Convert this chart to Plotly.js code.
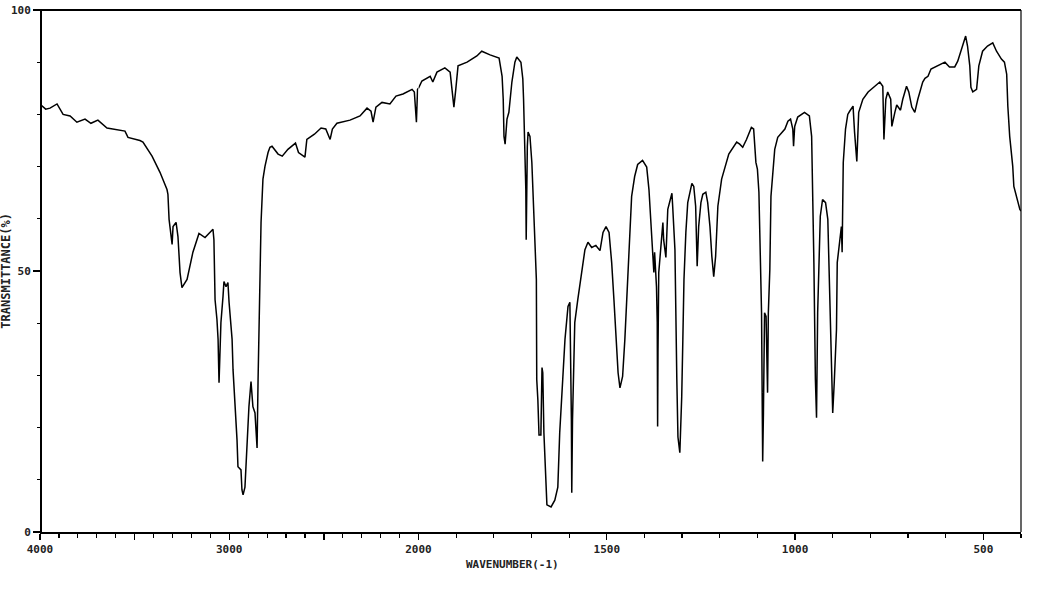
<!DOCTYPE html>
<html>
<head>
<meta charset="utf-8">
<script src="https://cdn.plot.ly/plotly-3.0.1.min.js"></script>
<style>html,body{margin:0;padding:0;background:#fff;}#chart{width:1056px;height:605px;}</style>
</head>
<body>
<div id="chart"></div>
<script>
// Wavenumber (cm-1), descending
var wavenumber = [
4000,3995,3970,3947,3910,3878,3841,3805,3762,3731,3694,3646,3551,3535,3472,3456,3408,3366,3329,
3324,3318,3302,3297,3281,3271,3260,3250,3223,3192,3160,3128,3086,3081,3075,3065,3059,3054,3044,
3033,3028,3017,3007,3001,2985,2980,2970,2959,2954,2938,2933,2927,2917,2906,2896,2885,2875,2864,
2853,2848,2837,2832,2822,2811,2795,2785,2774,2742,2720,2690,2650,2634,2600,2590,2550,2515,2490,
2467,2455,2431,2362,2309,2272,2251,2240,2225,2193,2151,2119,2082,2034,2022,2011,2005,2000,
1991,1969,1962,1951,1930,1916,1911,1906,1901,1895,1871,1845,1832,1810,1786,1778,1775,1773,1770,
1765,1760,1752,1744,1739,1728,1723,1721,1718,1715,1714,1713,1711,1709,1704,1699,1696,1691,1687,
1686,1683,1680,1675,1672,1670,1667,1662,1659,1648,1638,1630,1625,1617,1611,1603,1598,1594,1593,
1591,1585,1577,1566,1558,1550,1540,1529,1518,1510,1502,1494,1487,1481,1476,1470,1465,1458,1452,
1447,1441,1434,1426,1418,1405,1394,1388,1381,1377,1375,1373,1368,1366,1365,1364,1362,1357,1351,
1349,1343,1338,1327,1325,1319,1314,1311,1306,1301,1298,1295,1290,1285,1274,1269,1264,1262,1260,
1256,1250,1245,1237,1232,1226,1221,1216,1211,1205,1195,1187,1176,1155,1147,1139,1129,1116,1110,
1104,1100,1096,1091,1089,1087,1086,1084,1081,1077,1073,1071,1067,1064,1059,1054,1046,1027,1019,
1012,1006,1004,1001,993,975,962,956,953,950,946,943,940,937,933,927,919,913,908,903,900,896,890,
888,882,877,875,872,866,860,855,846,842,836,831,820,806,788,775,767,764,759,754,746,743,735,730,
720,714,704,698,690,682,674,661,655,647,639,623,602,590,576,568,555,547,542,536,533,528,518,512,
502,489,475,465,452,444,438,435,430,422,419,411,403,400
];
// Transmittance (%)
var transmittance = [
81.8,81.8,81.0,81.2,82.0,80.0,79.7,78.5,79.1,78.3,78.9,77.4,76.8,75.6,75.0,74.7,72.0,68.9,65.6,
64.7,59.9,55.1,58.5,59.3,56.6,49.7,46.8,48.4,53.6,57.2,56.4,58.0,56.0,44.5,40.7,36.9,28.6,40.1,
45.1,48.0,47.0,47.8,44.0,36.9,31.1,25.3,17.7,12.5,11.9,8.1,7.1,8.6,17.7,24.0,28.8,24.0,22.8,
16.1,28.6,48.4,59.3,67.6,70.1,72.7,73.7,73.9,72.4,72.0,73.3,74.5,72.7,71.8,75.2,76.2,77.4,77.2,
75.2,77.2,78.3,78.9,79.7,81.2,80.6,78.5,81.4,82.3,82.0,83.5,83.9,84.8,84.3,78.5,84.8,85.0,
86.4,87.3,86.2,88.1,88.9,88.1,84.3,81.4,84.8,89.3,90.0,91.2,92.1,91.4,90.8,87.3,82.9,75.8,74.3,
79.1,80.4,86.2,90.0,91.0,90.0,86.8,82.9,74.7,65.6,56.0,66.2,73.9,76.6,75.8,70.8,65.0,56.0,48.4,
29.2,25.3,18.6,18.6,31.5,30.5,19.0,9.4,5.2,4.8,6.1,8.6,19.0,29.2,36.9,43.2,44.0,21.5,7.5,
21.5,40.1,44.5,49.7,54.1,55.5,54.5,54.9,53.9,57.4,58.5,57.4,51.6,44.5,36.9,30.5,27.6,29.8,36.9,
45.1,54.7,64.3,68.1,70.4,71.2,69.9,65.6,56.6,52.8,49.7,53.6,47.0,40.1,20.2,34.4,49.7,54.7,59.3,
56.0,52.6,61.8,64.9,62.4,54.1,29.2,18.2,15.2,25.9,36.9,48.4,57.4,63.1,66.8,66.2,62.4,54.7,50.9,
58.5,63.1,64.7,65.1,63.1,58.5,52.8,48.9,52.8,62.4,67.6,69.5,72.4,74.7,74.3,73.7,75.2,77.5,77.2,
70.8,69.5,65.1,47.0,42.0,22.8,13.5,22.8,42.0,41.3,26.7,42.0,50.3,64.3,69.5,73.3,75.6,77.2,78.7,
79.1,77.2,73.9,77.7,79.5,80.4,79.7,75.8,64.3,51.6,29.2,21.9,42.0,51.6,60.5,63.7,63.1,59.9,45.1,32.4,22.8,28.6,38.8,
51.6,55.5,58.5,53.6,70.8,77.2,80.0,80.6,81.6,76.6,71.0,80.4,82.9,84.3,85.4,86.2,85.4,75.2,82.9,84.3,82.9,77.7,80.4,81.8,
80.8,82.9,85.4,84.3,81.4,80.4,82.9,86.2,86.9,87.3,88.7,89.3,90.0,89.1,89.1,90.2,93.1,95.0,93.1,89.3,85.2,84.3,84.8,89.3,
92.1,93.1,93.7,92.1,90.6,90.0,87.7,81.6,75.8,70.1,66.2,63.7,61.8,61.5
];
var leftTickVals = [4000,3500,3000,2500];
var leftTickText = ["4000","","3000",""];
var rightTickVals = [2000,1500,1000,500];
var rightTickText = ["2000","1500","1000","500"];
var yTickVals = [0,50,100];
var yTickText = ["0","50","100"];
var xTitle = "WAVENUMBER(-1)";
var yTitle = "TRANSMITTANCE(%)";

var SPLIT = 2000;
var lx=[],ly=[],rx=[],ry=[];
for (var i=0;i<wavenumber.length;i++){
  if (wavenumber[i] >= SPLIT){ lx.push(wavenumber[i]); ly.push(transmittance[i]); }
  if (wavenumber[i] <= SPLIT){ rx.push(wavenumber[i]); ry.push(transmittance[i]); }
}
var lineStyle = {color:'#000', width:1.5, shape:'linear'};
var traces = [
  {x:lx, y:ly, type:'scatter', mode:'lines', line:lineStyle, xaxis:'x', yaxis:'y', hoverinfo:'x+y'},
  {x:rx, y:ry, type:'scatter', mode:'lines', line:lineStyle, xaxis:'x2', yaxis:'y', hoverinfo:'x+y'}
];
var tickFont = {family:'DejaVu Sans Mono, monospace', size:11, color:'#222', weight:'bold'};
var W = 981, leftW = 378.5;
var d = leftW / W;
var common = {
  showgrid:false, zeroline:false, showline:true, linecolor:'#000', linewidth:1.5,
  ticks:'outside', ticklen:6, tickwidth:1.4, tickcolor:'#000', tickfont:tickFont,
  tickmode:'array', anchor:'y',
  minor:{tickmode:'linear', tick0:0, dtick:100, ticks:'outside', ticklen:4, tickwidth:1.2, tickcolor:'#000', showgrid:false}
};
var layout = {
  width:1056, height:605,
  margin:{l:40, r:35, t:10, b:73, pad:0},
  paper_bgcolor:'#fff', plot_bgcolor:'#fff',
  showlegend:false,
  xaxis: Object.assign({}, common, {domain:[0,d], range:[4000,2000], tickvals:leftTickVals, ticktext:leftTickText}),
  xaxis2: Object.assign({}, common, {domain:[d,1], range:[2000,400], tickvals:rightTickVals, ticktext:rightTickText}),
  yaxis: {
    range:[0,100], anchor:'free', position:0, showgrid:false, zeroline:false,
    showline:true, linecolor:'#000', linewidth:1.5,
    tickmode:'array', tickvals:yTickVals, ticktext:yTickText,
    ticks:'outside', ticklen:7, tickwidth:1.4, tickcolor:'#000', tickfont:tickFont,
    minor:{tickmode:'linear', tick0:0, dtick:10, ticks:'outside', ticklen:3, tickwidth:1.2, tickcolor:'#000', showgrid:false}
  },
  shapes:[
    {type:'line', xref:'paper', yref:'paper', x0:0, x1:1, y0:1, y1:1, line:{color:'#000', width:2}},
    {type:'line', xref:'paper', yref:'paper', x0:1, x1:1, y0:0, y1:1, line:{color:'#000', width:1.2}}
  ],
  annotations:[
    {text:xTitle, xref:'paper', yref:'paper', x:0.482, y:-0.063, showarrow:false, xanchor:'center', yanchor:'middle',
     font:{family:'DejaVu Sans Mono, monospace', size:11, color:'#222', weight:'bold'}},
    {text:yTitle, xref:'paper', yref:'paper', x:-0.035, y:0.5, showarrow:false, textangle:-90, xanchor:'center', yanchor:'middle',
     font:{family:'DejaVu Sans Mono, monospace', size:12, color:'#222', weight:'bold'}}
  ]
};
Plotly.newPlot('chart', traces, layout, {displayModeBar:false, staticPlot:true});
</script>
</body>
</html>
